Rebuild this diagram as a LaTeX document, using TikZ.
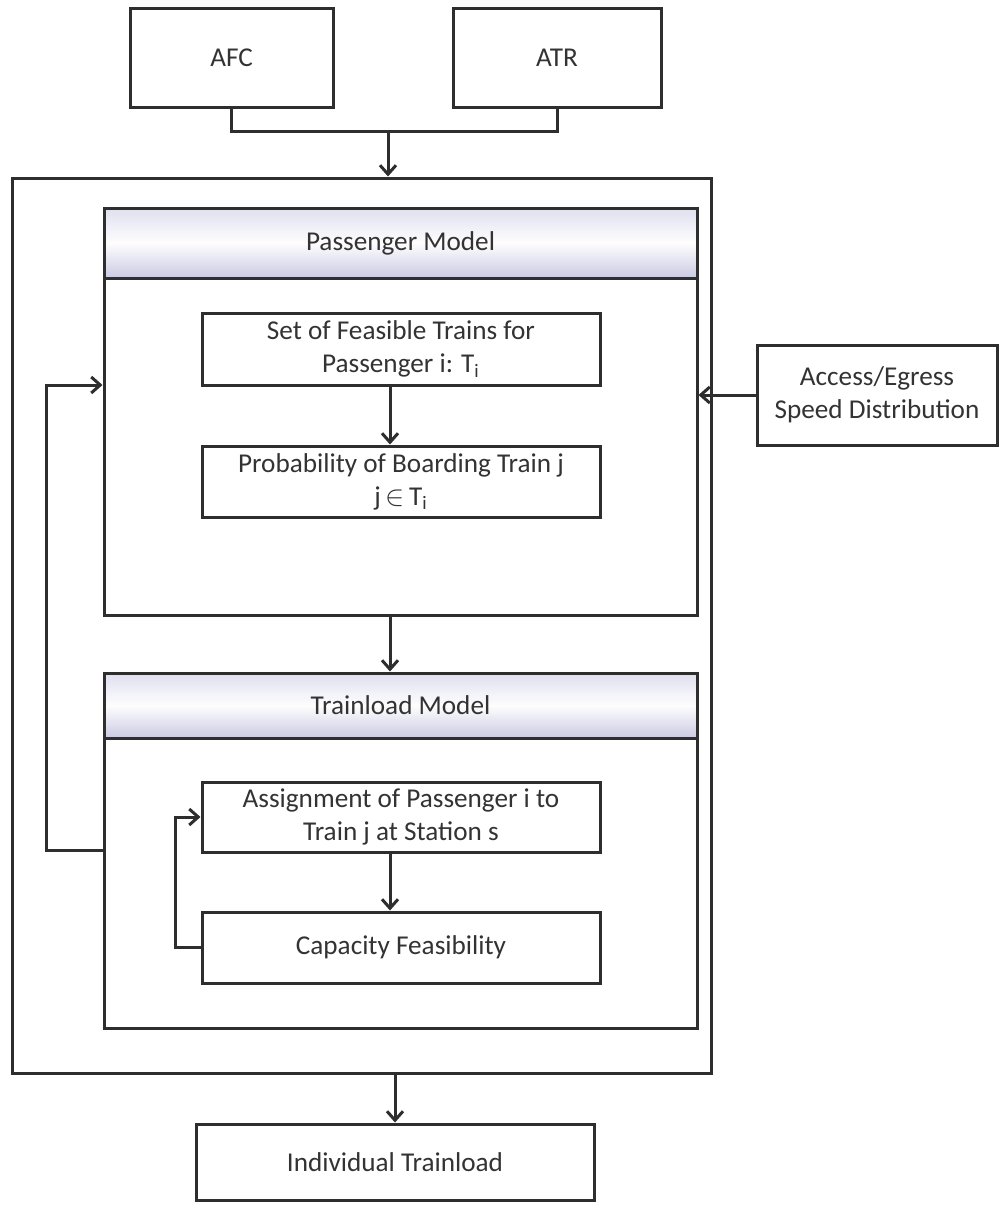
\documentclass[tikz,border=0pt]{standalone}
\usepackage{fontspec}
\setmainfont{Carlito}
\usetikzlibrary{arrows.meta}
\definecolor{ink}{HTML}{2E2E2E}
\definecolor{txt}{HTML}{333333}
\definecolor{lav}{HTML}{CACAE4}
\begin{document}
\begin{tikzpicture}[x=0.5pt,y=-0.5pt,
  box/.style={draw=ink, line width=1.5pt, fill=white, text=txt,
    font=\fontsize{13.6}{16.6}\selectfont, align=center, inner sep=0pt},
  frame/.style={draw=ink, line width=1.5pt, inner sep=0pt},
  hdr/.style={draw=ink, line width=1.5pt, inner sep=0pt, text=txt,
    font=\fontsize{13.6}{16.6}\selectfont,
    top color=lav!60, bottom color=lav, middle color=white!97!lav},
  arr/.style={draw=ink, line width=1.5pt, -{Straight Barb[length=4.5pt,width=8pt]}},
  link/.style={draw=ink, line width=1.5pt}]
\useasboundingbox (0,0) rectangle (1000,1205);

% data sources
\node[box, minimum width=101.5pt, minimum height=49.5pt] (afc) at (231.5,57.5) {AFC};
\node[box, minimum width=104pt, minimum height=49.5pt] (atr) at (557,57.5) {ATR};

% enclosing frame
\node[frame, minimum width=349.5pt, minimum height=447.5pt] (outer) at (361.5,625.5) {};

% passenger model
\node[frame, fill=white, minimum width=296.5pt, minimum height=203.5pt] (pm) at (400.5,411.5) {};
\node[hdr, minimum width=296.5pt, minimum height=35pt] (pmh) at (400.5,243) {Passenger Model};
\node[box, minimum width=199pt, minimum height=36pt] (set) at (401,349)
  {Set of Feasible Trains for\\Passenger i: T\textsubscript{i}};
\node[box, minimum width=199pt, minimum height=35.5pt] (prob) at (401,481.5)
  {Probability of Boarding Train j\\j\,$\in$\,T\textsubscript{i}};

% external input
\node[box, minimum width=120pt, minimum height=50pt] (acc) at (877,395)
  {Access/Egress\\Speed Distribution};

% trainload model
\node[frame, fill=white, minimum width=296.5pt, minimum height=177.5pt] (tm) at (400.5,850.5) {};
\node[hdr, minimum width=296.5pt, minimum height=32.5pt] (tmh) at (400.5,705.5) {Trainload Model};
\node[box, minimum width=199pt, minimum height=35pt] (asg) at (401,817)
  {Assignment of Passenger i to\\Train j at Station s};
\node[box, minimum width=199pt, minimum height=35.5pt] (cap) at (401,947.5)
  {Capacity Feasibility};

% output
\node[box, minimum width=199pt, minimum height=38pt] (ind) at (395,1162) {Individual Trainload};

% connectors
\coordinate (jn) at (388,131);
\coordinate (ax) at (390,0);
\draw[link] (afc.south) |- (jn) -| (atr.south);
\draw[arr] (jn) -- (outer.north -| jn);
\draw[arr] (set.south -| ax) -- (prob.north -| ax);
\draw[arr] (acc.west) -- (pm.east |- acc.west);
\draw[arr] (pm.south -| ax) -- (tmh.north -| ax);
\draw[arr] (asg.south -| ax) -- (cap.north -| ax);
\draw[arr] (cap.west) -- ++(-25,0) |- (asg.west);
\draw[arr] (tm.west) -- ++(-56,0) |- ([yshift=13.25pt]pm.west);
\draw[arr] (outer.south -| ind.north) -- (ind.north);
\end{tikzpicture}
\end{document}
